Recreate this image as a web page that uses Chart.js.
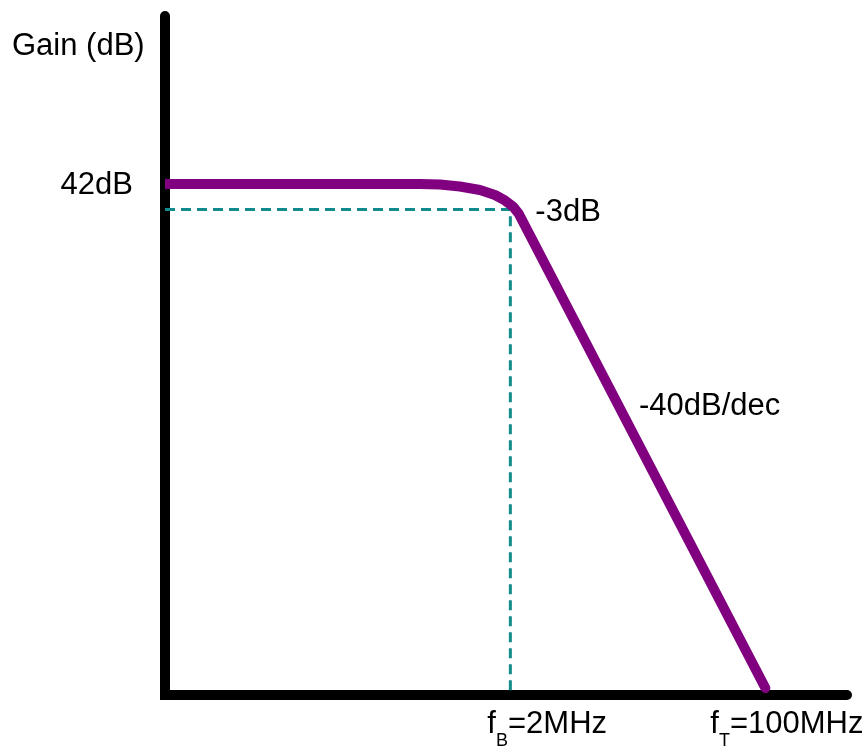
<!DOCTYPE html>
<html>
<head>
<meta charset="utf-8">
<script src="https://cdn.jsdelivr.net/npm/chart.js@4"></script>
<style>
  body { margin: 0; background: #fff; }
</style>
</head>
<body>
<canvas id="gainChart" width="867" height="747"></canvas>
<script>
// response curve (frequency in MHz, gain in dB)
const freqMHz = [0.01, 0.5, 0.679, 0.922, 1.255, 1.58, 1.84, 2.08, 2.28, 100];
const gainDb = [42, 42, 41.95, 41.79, 41.5, 41.09, 40.64, 40.15, 39.53, 0.58];

// -3dB guide lines
const guideFreq = [0.01, 2, 2];
const guideGain = [39.9, 39.9, 0];

const yAxisTitle = "Gain (dB)";
const midbandLabel = "42dB";
const cornerLabel = "-3dB";
const slopeLabel = "-40dB/dec";
const fbLabel = ["f", "B", "=2MHz"];
const ftLabel = ["f", "T", "=100MHz"];

const FONT = "'Liberation Sans', Arial, sans-serif";

const toPoints = (xs, ys) => xs.map((x, i) => ({ x: x, y: ys[i] }));

function drawSub(ctx, parts, x, y) {
  ctx.font = "31px " + FONT;
  ctx.fillText(parts[0], x, y);
  x += ctx.measureText(parts[0]).width;
  ctx.font = "18px " + FONT;
  ctx.fillText(parts[1], x, y + 13);
  x += ctx.measureText(parts[1]).width;
  ctx.font = "31px " + FONT;
  ctx.fillText(parts[2], x, y);
}

const axesAndLabels = {
  id: "axesAndLabels",
  beforeDatasetsDraw(chart) {
    const { ctx, chartArea: a } = chart;
    ctx.save();
    ctx.strokeStyle = "#000";
    ctx.lineWidth = 10;
    ctx.lineCap = "round";
    ctx.beginPath();
    ctx.moveTo(a.left, a.top);
    ctx.lineTo(a.left, a.bottom);
    ctx.lineTo(a.right, a.bottom);
    ctx.stroke();
    ctx.restore();
  },
  afterDatasetsDraw(chart) {
    const { ctx } = chart;
    const xs = chart.scales.x, ys = chart.scales.y;
    ctx.save();
    ctx.fillStyle = "#000";
    ctx.textBaseline = "alphabetic";
    ctx.font = "31px " + FONT;
    ctx.textAlign = "left";
    ctx.fillText(yAxisTitle, 12, 55);
    ctx.textAlign = "right";
    ctx.fillText(midbandLabel, 133, ys.getPixelForValue(42) + 10);
    ctx.textAlign = "left";
    ctx.fillText(cornerLabel, xs.getPixelForValue(2) + 25, ys.getPixelForValue(39.9) + 12);
    ctx.fillText(slopeLabel, 639, 415);
    drawSub(ctx, fbLabel, xs.getPixelForValue(2) - 23, 733);
    drawSub(ctx, ftLabel, xs.getPixelForValue(100) - 55, 733);
    ctx.restore();
  }
};

new Chart(document.getElementById("gainChart").getContext("2d"), {
  type: "line",
  data: {
    datasets: [{
      data: toPoints(freqMHz, gainDb),
      borderColor: "#800080",
      borderWidth: 10,
      borderCapStyle: "round",
      borderJoinStyle: "round",
      tension: 0,
      pointRadius: 0,
      fill: false
    }, {
      data: toPoints(guideFreq, guideGain),
      borderColor: "#138b8b",
      borderWidth: 3,
      borderDash: [10, 6],
      pointRadius: 0,
      tension: 0,
      fill: false
    }]
  },
  options: {
    responsive: false,
    animation: false,
    layout: { padding: { left: 165, top: 16, right: 20, bottom: 52 } },
    plugins: { legend: { display: false }, tooltip: { enabled: false } },
    scales: {
      x: { type: "logarithmic", min: 0.01, max: 350, display: false },
      y: { min: 0, max: 55.8, display: false }
    }
  },
  plugins: [axesAndLabels]
});
</script>
</body>
</html>
